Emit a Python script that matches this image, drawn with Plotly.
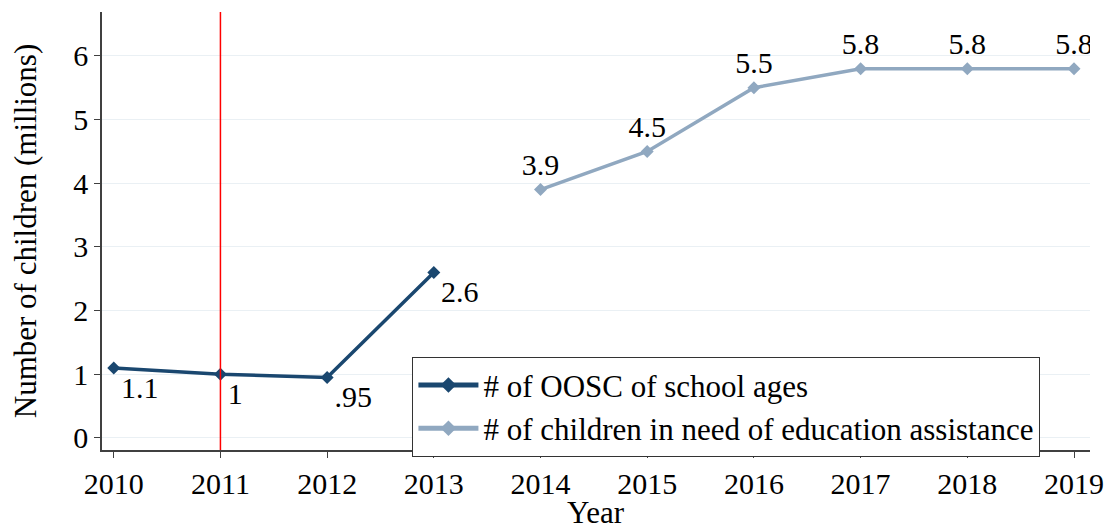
import plotly.graph_objects as go

years_oosc = [2010, 2011, 2012, 2013]
oosc = [1.1, 1.0, 0.95, 2.6]
oosc_labels = ["1.1", "1", ".95", "2.6"]

years_need = [2014, 2015, 2016, 2017, 2018, 2019]
need = [3.9, 4.5, 5.5, 5.8, 5.8, 5.8]
need_labels = ["3.9", "4.5", "5.5", "5.8", "5.8", "5.8"]

x_ticks = list(range(2010, 2020))
y_ticks = [0, 1, 2, 3, 4, 5, 6]
event_year = 2011

FONT = "Liberation Serif, DejaVu Serif, serif"
FS = 30
FL = 31
FT = 31
DARK = "#1a476f"
LIGHT = "#90a8c0"

fig = go.Figure()
fig.add_trace(go.Scatter(
    x=years_oosc, y=oosc, mode="lines+markers+text",
    name="# of OOSC of school ages",
    line=dict(color=DARK, width=3.5),
    marker=dict(symbol="diamond", size=10, color=DARK),
    text=oosc_labels, textposition="bottom right",
    textfont=dict(family=FONT, size=FS, color="black"),
))
fig.add_trace(go.Scatter(
    x=years_need, y=need, mode="lines+markers+text",
    name="# of children in need of education assistance",
    line=dict(color=LIGHT, width=3.5),
    marker=dict(symbol="diamond", size=10, color=LIGHT),
    text=need_labels, textposition="top center",
    textfont=dict(family=FONT, size=FS, color="black"),
))

fig.add_shape(type="line", xref="x", yref="paper", x0=event_year, x1=event_year,
              y0=0, y1=1, line=dict(color="red", width=1.5))

fig.add_annotation(text="Year", xref="paper", yref="paper", x=0.5, y=-0.142,
                   xanchor="center", yanchor="middle", showarrow=False,
                   font=dict(family=FONT, size=FT, color="black"))

fig.update_layout(
    width=1112, height=515,
    margin=dict(l=94, r=30, t=4, b=73),
    paper_bgcolor="white", plot_bgcolor="white",
    font=dict(family=FONT, size=FS, color="black"),
    showlegend=True,
    legend=dict(
        x=0.314, y=0.212, xanchor="left", yanchor="top",
        bgcolor="white", bordercolor="#333333", borderwidth=1.2,
        font=dict(family=FONT, size=FL, color="black"),
        tracegroupgap=0, itemwidth=60, itemsizing="constant",
    ),
)
fig.update_xaxes(
    range=[2009.89, 2019.15], tickvals=x_ticks, ticktext=[str(v) for v in x_ticks],
    showline=True, linecolor="#404040", linewidth=1.5,
    ticks="outside", ticklen=6, tickcolor="#404040", tickwidth=1.2,
    showgrid=False, zeroline=False, automargin=False,
    tickfont=dict(family=FONT, size=FS),
)
fig.update_yaxes(
    range=[-0.19, 6.69], tickvals=y_ticks, ticktext=[str(v) for v in y_ticks],
    showline=True, linecolor="#404040", linewidth=1.5,
    ticks="outside", ticklen=6, tickcolor="#404040", tickwidth=1.2,
    showgrid=True, gridcolor="#eaf0f4", gridwidth=1.2, zeroline=False, automargin=False,
    title=dict(text="Number of children (millions)", standoff=30, font=dict(family=FONT, size=FT)),
    tickfont=dict(family=FONT, size=FS),
)

fig.write_html("out.html")
